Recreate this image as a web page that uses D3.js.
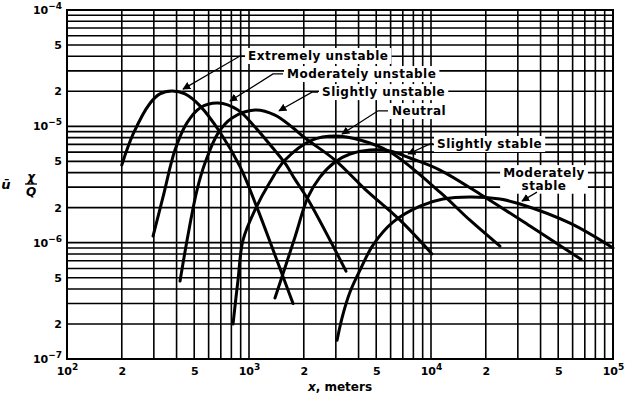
<!DOCTYPE html>
<html>
<head>
<meta charset="utf-8">
<script src="https://cdn.jsdelivr.net/npm/d3@7"></script>
<style>
  body { margin: 0; background: #fff; }
  text { font-family: "DejaVu Sans", sans-serif; font-weight: bold; fill: #000; }
</style>
</head>
<body>
<svg id="chart" width="640" height="396"></svg>
<script>
// tick values and labels
const xTickValues = [1e2, 2e2, 5e2, 1e3, 2e3, 5e3, 1e4, 2e4, 5e4, 1e5];
const xTickLabels = ["10^2", "2", "5", "10^3", "2", "5", "10^4", "2", "5", "10^5"];
const yTickValues = [1e-7, 2e-7, 5e-7, 1e-6, 2e-6, 5e-6, 1e-5, 2e-5, 5e-5, 1e-4];
const yTickLabels = ["10^−7", "2", "5", "10^−6", "2", "5", "10^−5", "2", "5", "10^−4"];

// curves: [distance in m, u·chi/Q]
const extremelyUnstable = [[200, 4.65e-6], [231, 8.6e-6], [286, 1.58e-5], [324, 1.9e-5], [377, 2.01e-5], [445, 1.9e-5],
  [538, 1.5e-5], [693, 8.9e-6], [893, 4.5e-6], [1107, 2.0e-6], [1390, 7.8e-7], [1746, 3.0e-7]];
const moderatelyUnstable = [[297, 1.14e-6], [337, 2.47e-6], [392, 6.25e-6], [456, 1.07e-5], [538, 1.44e-5], [676, 1.585e-5],
  [870, 1.38e-5], [1079, 9.86e-6], [1337, 6.64e-6], [1577, 4.83e-6], [1790, 3.5e-6], [2110, 2.35e-6], [3412, 5.7e-7]];
const slightlyUnstable = [[418, 4.68e-7], [462, 1.16e-6], [518, 2.83e-6], [573, 4.83e-6], [676, 8.75e-6], [807, 1.18e-5],
  [1079, 1.38e-5], [1389, 1.25e-5], [1722, 9.86e-6], [2032, 7.93e-6], [2970, 5.13e-6], [4335, 2.89e-6], [6761, 1.56e-6], [10120, 8.0e-7]];
const neutral = [[817, 2.0e-7], [870, 4.77e-7], [927, 1.05e-6], [1079, 1.91e-6], [1304, 3.32e-6], [1577, 5.13e-6], [2219, 7.62e-6],
  [2970, 8.26e-6], [4074, 7.62e-6], [5957, 6.01e-6], [11200, 2.72e-6], [16370, 1.56e-6], [23930, 9.35e-7]];
const slightlyStable = [[1389, 3.34e-7], [1517, 5.06e-7], [1790, 1.12e-6], [2110, 2.47e-6], [2455, 3.66e-6], [2970, 4.93e-6],
  [3589, 5.78e-6], [4620, 6.25e-6], [5957, 6.13e-6], [7674, 5.34e-6], [11200, 4.21e-6], [19320, 2.52e-6], [34990, 1.39e-6], [66680, 7.2e-7]];
const moderatelyStable = [[3047, 1.45e-7], [3243, 2.25e-7], [3589, 3.76e-7], [4074, 5.81e-7], [4801, 9.53e-7], [6180, 1.5e-6],
  [8710, 2.06e-6], [11640, 2.37e-6], [16370, 2.47e-6], [23930, 2.37e-6], [30830, 2.15e-6], [58070, 1.47e-6], [100000, 9.0e-7]];

const series = [extremelyUnstable, moderatelyUnstable, slightlyUnstable, neutral, slightlyStable, moderatelyStable];

// curve labels, anchored in data units: text lines + leader polyline
const labels = [
  { lines: ["Extremely unstable"], at: [988, 3.72e-5], anchor: "start", leader: [[951, 4.02e-5], [892, 4.02e-5], [434, 2.09e-5]] },
  { lines: ["Moderately unstable"], at: [1618, 2.6e-5], anchor: "start", leader: [[1538, 2.82e-5], [1355, 2.82e-5], [786, 1.65e-5]] },
  { lines: ["Slightly unstable"], at: [2518, 1.82e-5], anchor: "start", leader: [[2394, 1.97e-5], [2219, 1.97e-5], [1462, 1.36e-5]] },
  { lines: ["Neutral"], at: [6107, 1.25e-5], anchor: "start", leader: [[5804, 1.36e-5], [5117, 1.36e-5], [3243, 8.59e-6]] },
  { lines: ["Slightly stable"], at: [10790, 6.51e-6], anchor: "start", leader: [[10260, 7.05e-6], [9886, 7.05e-6], [7480, 5.78e-6]] },
  { lines: ["Moderately", "stable"], at: [41780, 3.66e-6], anchor: "middle", leader: [[38230, 2.72e-6], [31620, 2.28e-6]] }
];

const svg = d3.select("#chart");
const margin = { top: 10, right: 27, bottom: 37, left: 67 };
const width = +svg.attr("width") - margin.left - margin.right;
const height = +svg.attr("height") - margin.top - margin.bottom;

const x = d3.scaleLog().domain([1e2, 1e5]).range([margin.left, margin.left + width]);
const y = d3.scaleLog().domain([1e-7, 1e-4]).range([margin.top + height, margin.top]);

// log grid 1..9 per decade
const gridX = [], gridY = [];
for (let d = 2; d < 5; d++) for (let m = 1; m < 10; m++) gridX.push(m * Math.pow(10, d));
gridX.push(1e5);
for (let d = -7; d < -4; d++) for (let m = 1; m < 10; m++) gridY.push(m * Math.pow(10, d));
gridY.push(1e-4);

const grid = svg.append("g").attr("stroke", "#000").attr("stroke-width", 1.6);
grid.selectAll("line.v").data(gridX).join("line")
  .attr("x1", d => x(d)).attr("x2", d => x(d))
  .attr("y1", margin.top).attr("y2", margin.top + height);
grid.selectAll("line.h").data(gridY).join("line")
  .attr("x1", margin.left).attr("x2", margin.left + width)
  .attr("y1", d => y(d)).attr("y2", d => y(d));

svg.append("rect")
  .attr("x", margin.left).attr("y", margin.top)
  .attr("width", width).attr("height", height)
  .attr("fill", "none").attr("stroke", "#000").attr("stroke-width", 2);

function writeLabel(text, str) {
  const parts = str.split("^");
  text.text(null);
  text.append("tspan").text(parts[0]);
  if (parts[1]) text.append("tspan").attr("dy", "-0.55em").style("font-size", "9px").text(parts[1]);
}

// axes
const xAxis = svg.append("g")
  .attr("transform", `translate(0,${margin.top + height})`)
  .call(d3.axisBottom(x).tickValues(xTickValues).tickSize(0).tickPadding(8).tickFormat((d, i) => xTickLabels[i]));
xAxis.select(".domain").remove();
xAxis.selectAll("text").style("font-size", "11px").each(function (d, i) { writeLabel(d3.select(this), xTickLabels[i]); });

const yAxis = svg.append("g")
  .attr("transform", `translate(${margin.left},0)`)
  .call(d3.axisLeft(y).tickValues(yTickValues).tickSize(0).tickPadding(5).tickFormat((d, i) => yTickLabels[i]));
yAxis.select(".domain").remove();
yAxis.selectAll("text").style("font-size", "11px").each(function (d, i) { writeLabel(d3.select(this), yTickLabels[i]); });

// curves
const line = d3.line()
  .x(d => x(d[0]))
  .y(d => y(d[1]))
  .curve(d3.curveCatmullRom.alpha(0.5));

svg.append("g").selectAll("path").data(series).join("path")
  .attr("d", line)
  .attr("fill", "none")
  .attr("stroke", "#000")
  .attr("stroke-width", 3)
  .attr("stroke-linecap", "round");

// labels with white backing and leader arrows
svg.append("defs").append("marker")
  .attr("id", "arrow").attr("viewBox", "0 0 10 10")
  .attr("refX", 9).attr("refY", 5)
  .attr("markerWidth", 8).attr("markerHeight", 8).attr("markerUnits", "userSpaceOnUse")
  .attr("orient", "auto")
  .append("path").attr("d", "M0,0L10,5L0,10z").attr("fill", "#000");

const ann = svg.append("g");
labels.forEach(l => {
  const g = ann.append("g");
  const bg = g.append("rect").attr("fill", "#fff");
  const t = g.append("text")
    .attr("x", x(l.at[0])).attr("y", y(l.at[1]))
    .attr("text-anchor", l.anchor)
    .style("font-size", "12px")
    .style("letter-spacing", "0.5px");
  l.lines.forEach((s, i) => {
    t.append("tspan").attr("x", x(l.at[0])).attr("dy", i ? "1.05em" : 0).text(s);
  });
  const b = t.node().getBBox();
  bg.attr("x", b.x - 3).attr("y", b.y - 1).attr("width", b.width + 6).attr("height", b.height + 2);
  g.append("path")
    .attr("d", d3.line().x(d => x(d[0])).y(d => y(d[1]))(l.leader))
    .attr("fill", "none").attr("stroke", "#000").attr("stroke-width", 1.3)
    .attr("marker-end", "url(#arrow)");
});

// axis titles
const xt = svg.append("text")
  .attr("x", margin.left + width / 2).attr("y", 391)
  .attr("text-anchor", "middle").style("font-size", "12px");
xt.append("tspan").style("font-style", "italic").text("x");
xt.append("tspan").text(", meters");

const yt = svg.append("g").attr("transform", "translate(0,184)");
yt.append("text").attr("x", 6).attr("y", 5).attr("text-anchor", "middle")
  .style("font-size", "13px").style("font-style", "italic").text("ū");
yt.append("text").attr("x", 31).attr("y", -3).attr("text-anchor", "middle")
  .style("font-size", "12px").style("font-style", "italic").text("χ");
yt.append("line").attr("x1", 25).attr("x2", 37).attr("y1", 0).attr("y2", 0)
  .attr("stroke", "#000").attr("stroke-width", 1.3);
yt.append("text").attr("x", 31).attr("y", 12).attr("text-anchor", "middle")
  .style("font-size", "12px").style("font-style", "italic").text("Q");
</script>
</body>
</html>
